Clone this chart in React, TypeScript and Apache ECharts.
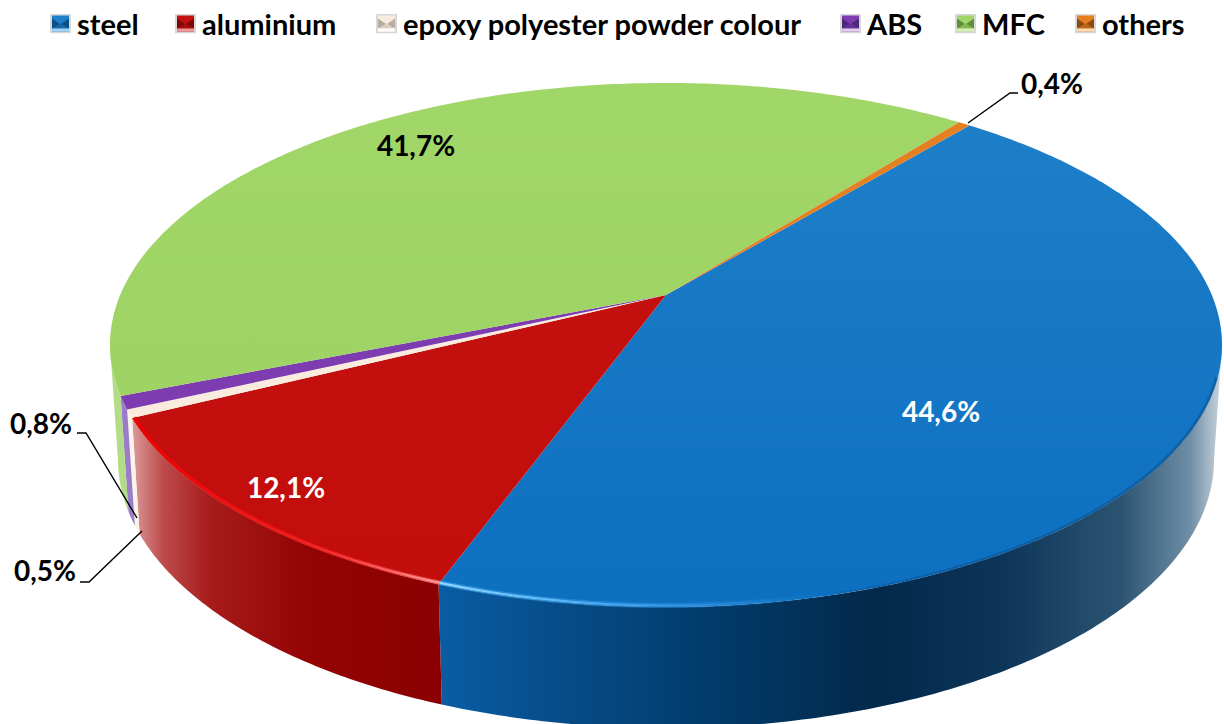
import React, { useEffect, useRef } from "react";
import * as echarts from "echarts";

const categories = ["steel", "aluminium", "epoxy polyester powder colour", "ABS", "MFC", "others"];
const shares = [44.6, 12.1, 0.5, 0.8, 41.7, 0.4];
const faceTop = ["#1f80c9", "#c41210", "#f9ebdd", "#7d3cb0", "#a1d668", "#e47f22"];
const faceBottom = ["#0c6fc0", "#c20d0b", "#f9ebdd", "#7d3cb0", "#9cd162", "#e47f22"];
const iconShade = ["#0b4f86", "#7d0808", "#b5aca2", "#4d2878", "#5f8f3c", "#8a4a12"];
const iconLight = ["#a6d4f2", "#ea9a9a", "#ffffff", "#e0cff0", "#d5efb8", "#fbdcb8"];
const labelColors = ["#ffffff", "#ffffff", "#000000", "#000000", "#000000", "#000000"];

const FONT = "Lato, Carlito, sans-serif";
const START = 39.6;
const VISIBLE_FROM = 101;
const VISIBLE_TO = 259;
const K = 0.1908;
const TOP_PLANE = { cx: 666, ay: 295, R: 545.8, S: 252.5 };
const BOTTOM_PLANE = { cx: 666, ay: 408, R: 538, S: 259 };

const legendLefts = [50, 175, 376, 840, 955, 1075];
const labelAnchors: number[][] = [[941, 411], [286, 487], [45, 570], [41, 423], [416, 145], [1052, 83]];
const leaderPaths: (number[][] | null)[] = [
  null,
  null,
  [[80, 582], [89, 582], [142, 531]],
  [[77, 433], [86, 433], [137, 518]],
  null,
  [[968, 123], [1010, 93], [1018, 93]],
];

const wallStops: (number[] | null)[] = [[436, 1222], [132, 442], null, null, null, null];

const total = shares.reduce((a, b) => a + b, 0);

function project(deg: number, plane: typeof TOP_PLANE, r = 1): number[] {
  const t = (deg * Math.PI) / 180;
  const u = Math.sin(t) * r;
  const v = -Math.cos(t) * r;
  const w = 1 / (1 - K * v);
  return [plane.cx + plane.R * u * w, plane.ay + plane.S * v * w];
}

function arc(from: number, to: number, plane: typeof TOP_PLANE, r = 1): number[][] {
  const pts: number[][] = [];
  const n = Math.max(2, Math.ceil((to - from) * 1.5));
  for (let i = 0; i <= n; i++) pts.push(project(from + ((to - from) * i) / n, plane, r));
  return pts;
}

function grad(x0: number, y0: number, x1: number, y1: number, stops: [number, string][]) {
  return new echarts.graphic.LinearGradient(
    x0, y0, x1, y1,
    stops.map(([offset, color]) => ({ offset, color })),
    true
  );
}

function wallFill(i: number) {
  const range = wallStops[i];
  if (i === 0 && range) {
    return grad(range[0], 0, range[1], 0, [
      [0, "#0a5da5"],
      [0.16, "#064c88"],
      [0.34, "#023c6d"],
      [0.56, "#02294a"],
      [0.72, "#0d3558"],
      [0.87, "#2b5371"],
      [0.96, "#6f8ea6"],
      [1, "#ccd6de"],
    ]);
  }
  if (i === 1 && range) {
    return grad(range[0], 0, range[1], 0, [
      [0, "#dc9a9a"],
      [0.1, "#bd4c4c"],
      [0.25, "#a81c1c"],
      [0.55, "#950404"],
      [1, "#8a0000"],
    ]);
  }
  if (i === 2) return "#fbf2ea";
  if (i === 3) return "#9a7cc8";
  if (i === 4) return "#b2dc88";
  return "#d88a44";
}

function renderSlice(i: number) {
  return (_params: any, api: any) => {
    const before = shares.slice(0, i).reduce((a, b) => a + b, 0);
    const from = START + (before / total) * 360;
    const to = from + (api.value(0) / total) * 360;
    const children: any[] = [];

    const wFrom = Math.max(from, VISIBLE_FROM);
    const wTo = Math.min(to, VISIBLE_TO);
    if (wTo > wFrom) {
      children.push({
        type: "polygon",
        z2: 1,
        shape: { points: [...arc(wFrom, wTo, TOP_PLANE), ...arc(wFrom, wTo, BOTTOM_PLANE).reverse()] },
        style: { fill: wallFill(i) },
      });
    }

    children.push({
      type: "polygon",
      z2: 5,
      shape: { points: [project(0, TOP_PLANE, 0), ...arc(from, to, TOP_PLANE)] },
      style: { fill: grad(0, 83, 0, 607, [[0, faceTop[i]], [1, faceBottom[i]]]) },
    });

    if (i === 0) {
      children.push({
        type: "polyline",
        z2: 6,
        shape: { points: arc(108, 165, TOP_PLANE, 0.998) },
        style: { fill: "none", lineWidth: 3, stroke: grad(760, 0, 1222, 0, [[0, "rgba(2,50,95,0)"], [0.4, "rgba(2,50,95,0.28)"], [1, "rgba(2,50,95,0.32)"]]) },
      });
      children.push({
        type: "polyline",
        z2: 7,
        shape: { points: arc(150, to, TOP_PLANE, 0.996) },
        style: { fill: "none", lineWidth: 5, stroke: grad(436, 0, 830, 0, [[0, "rgba(70,170,240,0.55)"], [0.6, "rgba(50,150,230,0.45)"], [1, "rgba(50,150,230,0)"]]) },
      });
      children.push({
        type: "polyline",
        z2: 8,
        shape: { points: arc(155, to, TOP_PLANE, 0.996) },
        style: { fill: "none", lineWidth: 2, stroke: grad(436, 0, 800, 0, [[0, "rgba(150,220,255,1)"], [0.5, "rgba(70,170,245,0.9)"], [1, "rgba(50,150,230,0)"]]) },
      });
    }
    if (i === 1) {
      children.push({
        type: "polyline",
        z2: 7,
        shape: { points: arc(from, to, TOP_PLANE, 0.996) },
        style: { fill: "none", lineWidth: 4, stroke: grad(132, 0, 440, 0, [[0, "rgba(240,0,0,0.8)"], [0.7, "rgba(240,30,30,0.8)"], [1, "rgba(250,110,110,0.9)"]]) },
      });
      children.push({
        type: "polyline",
        z2: 8,
        shape: { points: arc(from, to, TOP_PLANE, 0.996) },
        style: { fill: "none", lineWidth: 1.5, stroke: grad(132, 0, 440, 0, [[0, "rgba(235,0,0,1)"], [0.6, "rgba(245,40,40,1)"], [1, "rgba(255,170,170,1)"]]) },
      });
    }

    const path = leaderPaths[i];
    if (path) {
      children.push({
        type: "polyline",
        z2: 20,
        shape: { points: path },
        style: { fill: "none", stroke: "#000000", lineWidth: 1.4 },
      });
    }

    const [lx, ly] = labelAnchors[i];
    children.push({
      type: "text",
      z2: 21,
      style: {
        x: lx,
        y: ly,
        text: shares[i].toFixed(1).replace(".", ",") + "%",
        fill: labelColors[i],
        font: `bold 28px ${FONT}`,
        align: "center",
        verticalAlign: "middle",
      },
    });

    return { type: "group", children };
  };
}

function legendIcon(i: number): string {
  const svg =
    `<svg xmlns="http://www.w3.org/2000/svg" width="21" height="20" viewBox="0 0 21 20">` +
    `<rect width="21" height="20" fill="#d8d8d8"/>` +
    `<rect x="2" y="2" width="17" height="16" fill="${faceTop[i]}"/>` +
    `<polygon points="2,5 2,15 10,10.5" fill="${iconShade[i]}"/>` +
    `<polygon points="19,5 19,15 11,10.5" fill="${iconShade[i]}"/>` +
    `<polygon points="2,15 19,15 10.5,10.5" fill="${iconShade[i]}" fill-opacity="0.45"/>` +
    `<rect x="2" y="15" width="17" height="3" fill="${iconLight[i]}"/>` +
    `</svg>`;
  return "image://data:image/svg+xml;charset=utf-8," + encodeURIComponent(svg);
}

export default function App() {
  const ref = useRef<HTMLDivElement>(null);
  useEffect(() => {
    document.body.style.margin = "0";
    const chart = echarts.init(ref.current!, undefined, { renderer: "svg" });
    chart.setOption({
      animation: false,
      backgroundColor: "#ffffff",
      legend: categories.map((name, i) => ({
        left: legendLefts[i],
        top: 9,
        padding: 0,
        itemWidth: 21,
        itemHeight: 20,
        selectedMode: false,
        textStyle: { fontFamily: FONT, fontWeight: "bold", fontSize: 29, color: "#000000", padding: [0, 0, 0, 1] },
        data: [{ name, icon: legendIcon(i) }],
      })),
      series: categories.map((name, i) => ({
        type: "custom",
        name,
        coordinateSystem: "none",
        silent: true,
        clip: false,
        itemStyle: { color: faceTop[i] },
        data: [[shares[i]]],
        renderItem: renderSlice(i),
      })),
    });
    return () => chart.dispose();
  }, []);
  return <div ref={ref} style={{ width: 1224, height: 724 }} />;
}
